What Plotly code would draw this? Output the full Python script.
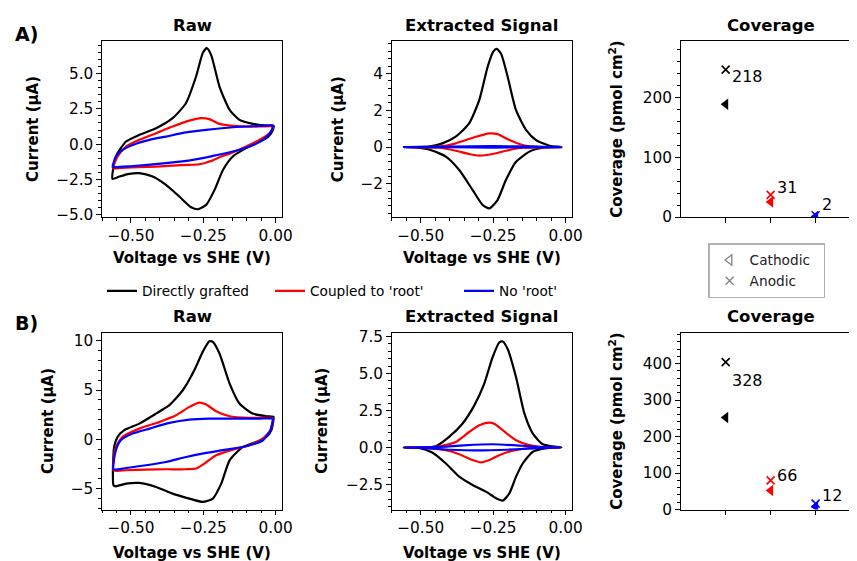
import plotly.graph_objects as go

# ---------------- DATA ----------------
SERIES_NAMES = ["Directly grafted", "Coupled to 'root'", "No 'root'"]

# Row A, Raw CVs (V vs SHE, current uA) - closed loops
A_RAW_DG_V = [-0.564, -0.561, -0.552, -0.535, -0.517, -0.471, -0.413, -0.356, -0.31, -0.275, -0.252, -0.238, -0.223, -0.194, -0.159, -0.125, -0.079, -0.032, -0.007, -0.012, -0.027, -0.055, -0.102, -0.148, -0.182, -0.211, -0.24, -0.269, -0.292, -0.333, -0.379, -0.425, -0.471, -0.506, -0.54, -0.564]
A_RAW_DG_I = [-2.45, -1.7, -0.87, -0.28, 0.19, 0.66, 1.13, 1.84, 2.9, 4.79, 6.44, 6.79, 6.32, 4.08, 2.43, 1.72, 1.44, 1.32, 1.30, 0.9, 0.5, 0.19, -0.28, -0.87, -1.82, -3.23, -4.29, -4.6, -4.46, -3.7, -2.88, -2.29, -2.05, -2.1, -2.29, -2.45]
A_RAW_CR_V = [-0.564, -0.546, -0.517, -0.471, -0.413, -0.356, -0.298, -0.258, -0.229, -0.194, -0.148, -0.079, -0.009, -0.009, -0.021, -0.055, -0.102, -0.148, -0.194, -0.229, -0.263, -0.298, -0.356, -0.413, -0.471, -0.529, -0.564]
A_RAW_CR_I = [-1.7, -0.87, -0.17, 0.31, 0.78, 1.25, 1.67, 1.84, 1.77, 1.44, 1.3, 1.25, 1.25, 1.2, 0.78, 0.31, -0.17, -0.59, -0.92, -1.23, -1.42, -1.46, -1.51, -1.58, -1.63, -1.67, -1.72]
A_RAW_NR_V = [-0.564, -0.552, -0.529, -0.494, -0.436, -0.379, -0.309, -0.24, -0.148, -0.055, -0.009, -0.009, -0.018, -0.044, -0.09, -0.148, -0.217, -0.286, -0.379, -0.471, -0.564]
A_RAW_NR_I = [-1.58, -0.87, -0.4, -0.05, 0.31, 0.54, 0.83, 1.01, 1.2, 1.3, 1.34, 1.3, 0.83, 0.31, -0.17, -0.52, -0.83, -1.11, -1.34, -1.51, -1.63]

# Row A, Extracted signal
A_EXT_DG_V = [-0.558, -0.471, -0.425, -0.379, -0.333, -0.298, -0.269, -0.25, -0.238, -0.223, -0.2, -0.171, -0.136, -0.102, -0.055, -0.015, -0.079, -0.125, -0.171, -0.206, -0.235, -0.263, -0.286, -0.321, -0.367, -0.413, -0.471, -0.517, -0.558]
A_EXT_DG_I = [0, 0.02, 0.2, 0.56, 1.28, 2.55, 4.36, 5.17, 5.33, 5.08, 3.82, 2.0, 0.92, 0.38, 0.07, 0, -0.04, -0.25, -0.8, -1.79, -2.88, -3.33, -3.15, -2.33, -1.25, -0.52, -0.13, -0.02, 0]
A_EXT_CR_V = [-0.558, -0.436, -0.379, -0.309, -0.263, -0.235, -0.194, -0.148, -0.09, -0.015, -0.148, -0.206, -0.252, -0.298, -0.333, -0.379, -0.436, -0.558]
A_EXT_CR_I = [0, 0.02, 0.2, 0.56, 0.74, 0.7, 0.38, 0.11, 0, 0, -0.04, -0.2, -0.38, -0.47, -0.38, -0.2, -0.04, 0]
A_EXT_NR_V = [-0.558, -0.4, -0.25, -0.1, -0.015, -0.1, -0.25, -0.4, -0.558]
A_EXT_NR_I = [0, 0.02, 0.05, 0.02, 0, -0.01, -0.03, -0.01, 0]

# Row B, Raw CVs
B_RAW_DG_V = [-0.56, -0.558, -0.546, -0.523, -0.471, -0.413, -0.367, -0.321, -0.281, -0.252, -0.229, -0.217, -0.194, -0.159, -0.125, -0.079, -0.032, -0.007, -0.007, -0.015, -0.032, -0.067, -0.113, -0.159, -0.188, -0.217, -0.252, -0.298, -0.356, -0.413, -0.471, -0.517, -0.552, -0.56]
B_RAW_DG_I = [-4.68, -0.78, 0.24, 0.92, 1.59, 2.61, 3.46, 4.98, 7.02, 8.88, 9.95, 9.9, 8.71, 5.66, 3.63, 2.61, 2.34, 2.27, 2.2, 0.92, 0.24, -0.27, -0.78, -2.14, -4.51, -6.03, -6.37, -6.03, -5.53, -4.85, -4.44, -4.51, -4.78, -4.68]
B_RAW_CR_V = [-0.56, -0.552, -0.529, -0.471, -0.402, -0.344, -0.298, -0.263, -0.24, -0.206, -0.159, -0.09, -0.009, -0.009, -0.018, -0.044, -0.09, -0.148, -0.206, -0.246, -0.275, -0.309, -0.379, -0.448, -0.517, -0.56]
B_RAW_CR_I = [-3.15, -0.78, 0.24, 1.08, 1.76, 2.44, 3.29, 3.73, 3.53, 2.85, 2.34, 2.17, 2.17, 2.1, 0.92, 0.07, -0.61, -1.05, -1.63, -2.47, -2.98, -3.05, -3.05, -3.08, -3.15, -3.15]
B_RAW_NR_V = [-0.56, -0.552, -0.535, -0.494, -0.436, -0.367, -0.298, -0.229, -0.148, -0.055, -0.009, -0.009, -0.018, -0.044, -0.102, -0.171, -0.24, -0.309, -0.379, -0.448, -0.517, -0.56]
B_RAW_NR_I = [-3.05, -1.12, -0.1, 0.58, 1.08, 1.66, 2.0, 2.1, 2.1, 2.1, 2.1, 2.03, 0.92, -0.1, -0.71, -1.05, -1.39, -1.8, -2.31, -2.64, -2.92, -3.05]

# Row B, Extracted signal
B_EXT_DG_V = [-0.558, -0.494, -0.448, -0.402, -0.356, -0.315, -0.281, -0.252, -0.229, -0.217, -0.2, -0.171, -0.142, -0.113, -0.079, -0.032, -0.015, -0.067, -0.113, -0.148, -0.171, -0.194, -0.217, -0.24, -0.275, -0.321, -0.367, -0.413, -0.46, -0.506, -0.558]
B_EXT_DG_I = [0, 0, 0.09, 0.72, 1.61, 2.85, 4.3, 6.1, 7.1, 7.17, 6.66, 4.75, 2.29, 0.94, 0.22, 0.04, 0, -0.04, -0.29, -1.08, -1.97, -3.09, -3.59, -3.43, -2.98, -2.53, -1.97, -1.08, -0.34, -0.02, 0]
B_EXT_CR_V = [-0.558, -0.448, -0.379, -0.333, -0.298, -0.266, -0.246, -0.217, -0.171, -0.125, -0.079, -0.015, -0.125, -0.183, -0.229, -0.263, -0.292, -0.321, -0.367, -0.413, -0.471, -0.558]
B_EXT_CR_I = [0, 0.04, 0.38, 1.05, 1.5, 1.68, 1.61, 1.17, 0.49, 0.16, 0.02, 0, -0.04, -0.22, -0.52, -0.85, -1.01, -0.85, -0.45, -0.18, -0.04, 0]
B_EXT_NR_V = [-0.558, -0.45, -0.35, -0.25, -0.15, -0.08, -0.015, -0.1, -0.2, -0.3, -0.4, -0.5, -0.558]
B_EXT_NR_I = [0, 0.02, 0.15, 0.22, 0.12, 0.03, 0, -0.05, -0.15, -0.2, -0.15, -0.03, 0]

# Coverage (pmol cm^2): one value per series
COV_POS = [0, 1, 2]
A_CATHODIC = [189, 25, 1]
A_ANODIC = [247, 37, 3]
B_CATHODIC = [252, 52, 8]
B_ANODIC = [404, 80, 16]

# ---------------- STYLE ----------------
OFF = 8  # page body margin of the html document
W, H = 857 - OFF, 561 - OFF
COLORS = ["black", "#ff0000", "#0000ff"]
FONT = "DejaVu Sans"
TICK_SIZE = 15.3
LABEL_SIZE = 15
TITLE_SIZE = 16.5
LEG_SIZE = 13.7


def px(x):
    return (x - OFF) / W


def py(y):
    return 1 - (y - OFF) / H


fig = go.Figure()

LEGEND_IDS = ["legend", "legend3", "legend4"]
panels_cv = [
    ("", [(A_RAW_DG_V, A_RAW_DG_I), (A_RAW_CR_V, A_RAW_CR_I), (A_RAW_NR_V, A_RAW_NR_I)], True),
    ("2", [(A_EXT_DG_V, A_EXT_DG_I), (A_EXT_CR_V, A_EXT_CR_I), (A_EXT_NR_V, A_EXT_NR_I)], False),
    ("4", [(B_RAW_DG_V, B_RAW_DG_I), (B_RAW_CR_V, B_RAW_CR_I), (B_RAW_NR_V, B_RAW_NR_I)], False),
    ("5", [(B_EXT_DG_V, B_EXT_DG_I), (B_EXT_CR_V, B_EXT_CR_I), (B_EXT_NR_V, B_EXT_NR_I)], False),
]
for ax, curves, show in panels_cv:
    for k, (v, i) in enumerate(curves):
        fig.add_trace(go.Scatter(
            x=v, y=i, mode="lines", name=SERIES_NAMES[k],
            line=dict(color=COLORS[k], width=2.2, shape="spline", smoothing=0.6),
            showlegend=show, legend=LEGEND_IDS[k],
            xaxis="x" + ax, yaxis="y" + ax, hoverinfo="skip"))

label_shift = {"3": [-7, 7, 11], "6": [-18, 5, 8]}
for ax, cath, anod in [("3", A_CATHODIC, A_ANODIC), ("6", B_CATHODIC, B_ANODIC)]:
    for k in range(3):
        fig.add_trace(go.Scatter(
            x=[COV_POS[k]], y=[cath[k]], mode="markers", showlegend=False,
            marker=dict(symbol="triangle-left", size=10, color=COLORS[k]),
            xaxis="x" + ax, yaxis="y" + ax, hoverinfo="skip"))
        fig.add_trace(go.Scatter(
            x=[COV_POS[k]], y=[anod[k]], mode="markers", showlegend=False,
            marker=dict(symbol="x-thin-open", size=8, color=COLORS[k],
                        line=dict(color=COLORS[k], width=1.6)),
            xaxis="x" + ax, yaxis="y" + ax, hoverinfo="skip"))
        mean = round((cath[k] + anod[k]) / 2)
        fig.add_annotation(
            x=COV_POS[k] + 0.1, y=anod[k], xref="x" + ax, yref="y" + ax,
            text=str(mean), showarrow=False, xanchor="left", yanchor="middle",
            yshift=label_shift[ax][k], font=dict(family=FONT, size=16, color="black"))

# legend entries for coverage markers
fig.add_trace(go.Scatter(x=[None], y=[None], mode="markers", name="Cathodic\u00a0\u00a0",
                         marker=dict(symbol="triangle-left-open", size=9, color="grey",
                                     line=dict(color="grey", width=1.3)),
                         legend="legend2", xaxis="x3", yaxis="y3"))
fig.add_trace(go.Scatter(x=[None], y=[None], mode="markers", name="Anodic",
                         marker=dict(symbol="x-thin-open", size=8, color="grey",
                                     line=dict(color="grey", width=1.3)),
                         legend="legend2", xaxis="x3", yaxis="y3"))

# ---------------- AXES ----------------
ROW1 = [py(217), py(41)]
ROW2 = [py(509.5), py(333)]
COL1 = [px(102), px(282)]
COL2 = [px(391.7), px(572)]
COL3 = [px(680.7), 1.0]


def base_axis(**kw):
    d = dict(showline=True, linecolor="black", linewidth=1.2, mirror=True,
             ticks="outside", ticklen=4.5, tickwidth=1.2, tickcolor="black",
             showgrid=False, zeroline=False, automargin=False,
             tickfont=dict(family=FONT, size=TICK_SIZE, color="black"))
    d.update(kw)
    return d


def minor(dt):
    return dict(ticks="outside", ticklen=2.5, tickwidth=1, tickcolor="black",
                dtick=dt, tick0=0, showgrid=False)


xcv = dict(range=[-0.6, 0.022], dtick=0.25, tick0=0, tickformat=".2f", minor=minor(0.05))


def line_legend(xpix):
    return dict(orientation="h", x=px(xpix), y=py(291), xanchor="left", yanchor="middle",
                font=dict(family=FONT, size=LEG_SIZE, color="black"),
                bgcolor="rgba(0,0,0,0)", itemwidth=30)


layout = dict(
    width=W, height=H, margin=dict(l=0, r=0, t=0, b=0, autoexpand=False),
    plot_bgcolor="white", paper_bgcolor="white",
    font=dict(family=FONT, color="black"),
    xaxis=base_axis(domain=COL1, anchor="y", **xcv),
    yaxis=base_axis(domain=ROW1, anchor="x", range=[-5.15, 7.3], dtick=2.5, tick0=0,
                    tickformat=".1f", minor=minor(0.5)),
    xaxis2=base_axis(domain=COL2, anchor="y2", **xcv),
    yaxis2=base_axis(domain=ROW1, anchor="x2", range=[-3.8, 5.76], dtick=2, tick0=0,
                     tickformat=".0f", minor=minor(0.4)),
    xaxis3=base_axis(domain=COL3, anchor="y3", range=[-1, 2.92], tickvals=COV_POS,
                     showticklabels=False),
    yaxis3=base_axis(domain=ROW1, anchor="x3", range=[0, 295], dtick=100, tick0=0,
                     mirror=False, minor=minor(20)),
    xaxis4=base_axis(domain=COL1, anchor="y4", **xcv),
    yaxis4=base_axis(domain=ROW2, anchor="x4", range=[-7.14, 10.8], dtick=5, tick0=0,
                     tickformat=".0f", minor=minor(1)),
    xaxis5=base_axis(domain=COL2, anchor="y5", **xcv),
    yaxis5=base_axis(domain=ROW2, anchor="x5", range=[-4.19, 7.74], dtick=2.5, tick0=0,
                     tickformat=".1f", minor=minor(0.5)),
    xaxis6=base_axis(domain=COL3, anchor="y6", range=[-1, 2.92], tickvals=COV_POS,
                     showticklabels=False),
    yaxis6=base_axis(domain=ROW2, anchor="x6", range=[0, 484], dtick=100, tick0=0,
                     mirror=False, minor=minor(20)),
    legend=line_legend(102),
    legend3=line_legend(270),
    legend4=line_legend(459),
    legend2=dict(orientation="v", x=px(708.3), y=py(270.8), xanchor="left", yanchor="middle",
                 font=dict(family=FONT, size=LEG_SIZE, color="#222222"),
                 bordercolor="#b0b0b0", borderwidth=1.3, bgcolor="white",
                 itemwidth=30, tracegroupgap=0),
)
fig.update_layout(**layout)

# ---------------- TEXT ----------------
def ann(text, x, y, size, bold=True, angle=0):
    fig.add_annotation(text=("<b>%s</b>" % text) if bold else text,
                       x=px(x), y=py(y), xref="paper", yref="paper",
                       showarrow=False, xanchor="center", yanchor="middle",
                       textangle=angle, font=dict(family=FONT, size=size, color="black"))


for (yt, yx) in [(25, 258), (316.7, 553)]:
    ann("Raw", 192, yt, TITLE_SIZE)
    ann("Extracted Signal", 481.9, yt, TITLE_SIZE)
    ann("Coverage", 770.7, yt, TITLE_SIZE)
    ann("Voltage vs SHE (V)", 192, yx, LABEL_SIZE)
    ann("Voltage vs SHE (V)", 481.9, yx, LABEL_SIZE)

ann("A)", 26, 34, 19)
ann("B)", 26.7, 323, 19)

ann("Current (µA)", 33, 129, LABEL_SIZE, angle=-90)
ann("Current (µA)", 338.3, 129, LABEL_SIZE, angle=-90)
ann("Coverage (pmol cm<sup>2</sup>)", 615.8, 129, LABEL_SIZE, angle=-90)
ann("Current (µA)", 48, 421, LABEL_SIZE, angle=-90)
ann("Current (µA)", 321.7, 421, LABEL_SIZE, angle=-90)
ann("Coverage (pmol cm<sup>2</sup>)", 615.8, 421, LABEL_SIZE, angle=-90)

fig.write_html("out.html")
